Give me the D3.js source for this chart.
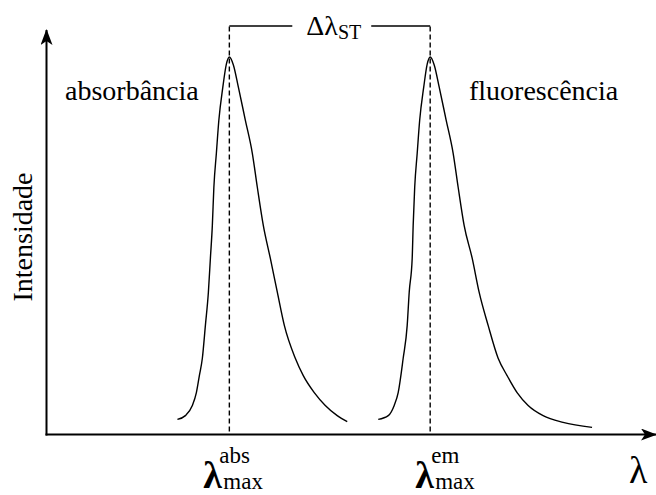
<!DOCTYPE html>
<html>
<head>
<meta charset="utf-8">
<script src="https://cdn.jsdelivr.net/npm/d3@7"></script>
<style>
  body { margin: 0; background: #fff; }
</style>
</head>
<body>
<div id="chart"></div>
<script>
// wavelength in arbitrary units (0-100), intensity normalised to the peak
var absWavelength = [21.48, 22.79, 23.93, 24.59, 25.08, 25.57, 26.07, 26.56, 26.89, 27.21, 27.46, 27.87, 28.28, 28.93, 29.51, 30.00,
                     30.66, 31.48, 32.62, 33.77, 34.59, 35.57, 36.72, 37.87, 39.02, 40.82, 42.13, 43.93, 45.74, 47.70, 49.34];
var absIntensity  = [0.040, 0.050, 0.077, 0.111, 0.156, 0.202, 0.289, 0.377, 0.467, 0.554, 0.655, 0.745, 0.833, 0.920, 0.981, 1.000,
                     0.979, 0.920, 0.833, 0.745, 0.655, 0.554, 0.467, 0.377, 0.289, 0.202, 0.156, 0.111, 0.077, 0.050, 0.034];

var emWavelength = [54.43, 56.07, 57.05, 57.70, 58.52, 59.18, 59.51, 60.00, 60.16, 60.41, 60.82, 61.23, 61.89, 62.46, 62.95,
                    63.61, 64.43, 65.57, 66.72, 67.54, 68.52, 69.84, 70.98, 72.46, 74.10, 75.57, 77.21, 79.02, 81.48, 84.75, 89.51];
var emIntensity  = [0.040, 0.050, 0.077, 0.111, 0.202, 0.289, 0.377, 0.467, 0.554, 0.655, 0.745, 0.833, 0.920, 0.981, 1.000,
                    0.979, 0.920, 0.833, 0.745, 0.655, 0.554, 0.467, 0.377, 0.289, 0.202, 0.156, 0.111, 0.077, 0.050, 0.032, 0.019];

var absMax = 30.00;
var emMax = 62.95;
var bracketLevel = 1.082;

var width = 656, height = 495;
var serif = "'Liberation Serif', 'Times New Roman', 'DejaVu Serif', serif";

var x = d3.scaleLinear().domain([0, 100]).range([46.5, 656]);
var y = d3.scaleLinear().domain([0, 1]).range([434.5, 57]);

var svg = d3.select("#chart").append("svg")
    .attr("width", width)
    .attr("height", height)
    .attr("font-family", serif);

// arrow heads for the axes
var defs = svg.append("defs");
defs.append("marker")
    .attr("id", "arrow")
    .attr("viewBox", "0 0 16 12")
    .attr("refX", 15).attr("refY", 6)
    .attr("markerWidth", 16).attr("markerHeight", 12)
    .attr("markerUnits", "userSpaceOnUse")
    .attr("orient", "auto")
  .append("path")
    .attr("d", "M0,0 L16,6 L0,12 L4,6 Z")
    .attr("fill", "#000");

// axes
svg.append("line")
    .attr("x1", x(0)).attr("y1", y(0) + 1)
    .attr("x2", x(0)).attr("y2", 30)
    .attr("stroke", "#000").attr("stroke-width", 2)
    .attr("marker-end", "url(#arrow)");
svg.append("line")
    .attr("x1", x(0) - 1).attr("y1", y(0))
    .attr("x2", x(100)).attr("y2", y(0))
    .attr("stroke", "#000").attr("stroke-width", 2)
    .attr("marker-end", "url(#arrow)");

// peaks
var line = d3.line()
    .x(function(d) { return x(d[0]); })
    .y(function(d) { return y(d[1]); })
    .curve(d3.curveMonotoneX);

var absData = absWavelength.map(function(w, i) { return [w, absIntensity[i]]; });
var emData = emWavelength.map(function(w, i) { return [w, emIntensity[i]]; });

[absData, emData].forEach(function(data) {
    svg.append("path")
        .datum(data)
        .attr("d", line)
        .attr("fill", "none")
        .attr("stroke", "#000")
        .attr("stroke-width", 1.4);
});

// dashed lines at the maxima
[absMax, emMax].forEach(function(m) {
    svg.append("line")
        .attr("x1", x(m)).attr("x2", x(m))
        .attr("y1", y(0) - 3).attr("y2", y(bracketLevel))
        .attr("stroke", "#000").attr("stroke-width", 1.4)
        .attr("stroke-dasharray", "5,3");
});

// Stokes shift label + bracket
var stokes = svg.append("text")
    .attr("x", (x(absMax) + x(emMax)) / 2 + 4)
    .attr("y", 35)
    .attr("text-anchor", "middle")
    .style("font-family", serif)
    .style("font-size", "28px");
stokes.append("tspan").text("Δλ");
stokes.append("tspan").attr("dy", 4).style("font-size", "20px").text("ST");

var bb = stokes.node().getBBox();
svg.append("line")
    .attr("x1", x(absMax)).attr("x2", bb.x - 14)
    .attr("y1", y(bracketLevel)).attr("y2", y(bracketLevel))
    .attr("stroke", "#000").attr("stroke-width", 1.4);
svg.append("line")
    .attr("x1", bb.x + bb.width + 10).attr("x2", x(emMax))
    .attr("y1", y(bracketLevel)).attr("y2", y(bracketLevel))
    .attr("stroke", "#000").attr("stroke-width", 1.4);

function label(px, py, size, txt) {
    return svg.append("text")
        .attr("x", px).attr("y", py)
        .style("font-family", serif)
        .style("font-size", size + "px")
        .text(txt);
}

// series labels
label(65, 100, 28, "absorbância");
label(469, 100, 28, "fluorescência");

// axis titles
svg.append("text")
    .attr("transform", "translate(32,237) rotate(-90)")
    .attr("text-anchor", "middle")
    .style("font-family", serif)
    .style("font-size", "28px")
    .text("Intensidade");

label(629, 483, 38, "λ");

// lambda max labels under the peaks
function lambdaLabel(px, sup) {
    label(px, 488, 38, "λ").style("font-weight", "bold");
    label(px + 16, 463, 23, sup);
    label(px + 20, 489, 23, "max");
}
lambdaLabel(x(absMax) - 26, "abs");
lambdaLabel(x(emMax) - 15, "em");
</script>
</body>
</html>
